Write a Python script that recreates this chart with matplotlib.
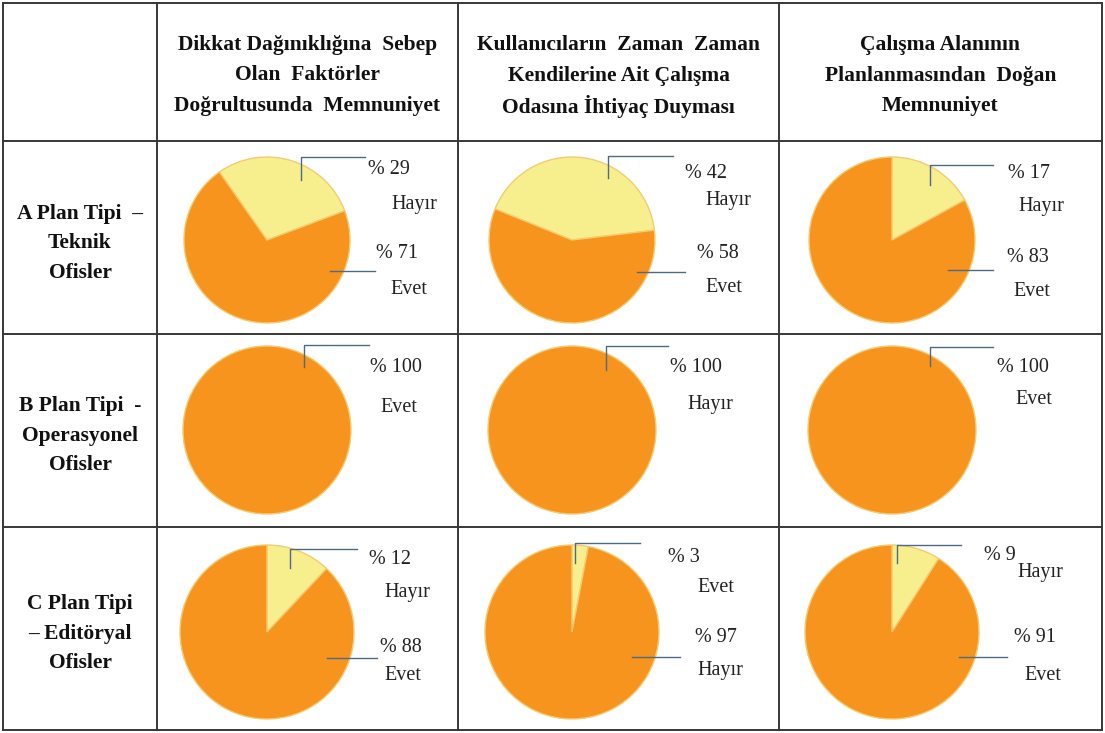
import matplotlib
matplotlib.use("Agg")
import matplotlib.pyplot as plt

# ---- data ----
col_headers = [
    ["Dikkat Dağınıklığına  Sebep", "Olan  Faktörler", "Doğrultusunda  Memnuniyet"],
    ["Kullanıcıların  Zaman  Zaman", "Kendilerine Ait Çalışma", "Odasına İhtiyaç Duyması"],
    ["Çalışma Alanının", "Planlanmasından  Doğan", "Memnuniyet"],
]
row_headers = [
    ["A Plan Tipi  –", "Teknik", "Ofisler"],
    ["B Plan Tipi  -", "Operasyonel", "Ofisler"],
    ["C Plan Tipi", "– Editöryal", "Ofisler"],
]
# upper label slice (first wedge) and lower label slice (second wedge)
top_pct = [[29, 42, 17], [100, 100, 100], [12, 3, 9]]
top_name = [["Hayır", "Hayır", "Hayır"], ["Evet", "Hayır", "Evet"], ["Hayır", "Evet", "Hayır"]]
bot_pct = [[71, 58, 83], [0, 0, 0], [88, 97, 91]]
bot_name = [["Evet", "Evet", "Evet"], ["", "", ""], ["Evet", "Hayır", "Evet"]]

# ---- layout (pixels, y downward) ----
W, H = 1105, 733
xs = [3, 157, 458, 779, 1102]
ys = [3, 141, 334, 527, 730]
pie_cx = [267, 572, 892]
pie_cy = [240, 430, 632]
pie_r = [83, 84, 87]
start = [[125, 158, 90], [90, 90, 90], [90, 90, 90]]

# anchor dx, anchor dy, elbow dy, end dx
lead_top = [
    [(34, -60, -83, 98), (36, -62, -84, 101), (38, -55, -75, 101)],
    [(37, -63, -85, 102), (34, -60, -84, 96), (38, -64, -83, 101)],
    [(23, -64, -83, 90), (3, -69, -89, 68), (5, -69, -87, 69)],
]
# pct x, pct y, name x, name y
txt_top = [
    [(101, -70, 124, -35), (113, -66, 133, -39), (116, -67, 126, -33)],
    [(103, -63, 113, -22), (98, -62, 115, -26), (105, -62, 123, -31)],
    [(102, -72, 117, -39), (96, -74, 125, -45), (92, -77, 125, -59)],
]
# start dx, dy, end dx
lead_bot = [
    [(63, 31, 108), (65, 32, 113), (56, 30, 101)],
    None,
    [(60, 26, 110), (60, 25, 108), (67, 25, 115)],
]
txt_bot = [
    [(109, 13, 123, 50), (125, 13, 133, 47), (115, 18, 121, 52)],
    None,
    [(113, 16, 117, 43), (123, 5, 125, 38), (122, 5, 132, 43)],
]

ORANGE = "#F7941D"
YELLOW = "#F7EE8E"
EDGE = "#F4CB72"
LEAD = "#4d6b88"
GRID = "#383838"
FONT = "Liberation Serif"


def Y(y):
    return H - y


fig = plt.figure(figsize=(W / 100, H / 100), dpi=100)
ax = fig.add_axes([0, 0, 1, 1])

# table lines
for y in ys:
    ax.plot([xs[0], xs[-1]], [Y(y), Y(y)], color=GRID, lw=1.4, solid_capstyle="projecting")
for x in xs:
    ax.plot([x, x], [Y(ys[0]), Y(ys[-1])], color=GRID, lw=1.4, solid_capstyle="projecting")

# column headers
for j, lines in enumerate(col_headers):
    cx = (xs[j + 1] + xs[j + 2]) / 2
    for k, line in enumerate(lines):
        ax.text(cx, Y(45 + 30.5 * k), line, ha="center", va="center",
                fontsize=15.5, fontweight="bold", family=FONT, color="#111111")

# row headers
for i, lines in enumerate(row_headers):
    cy = (ys[i + 1] + ys[i + 2]) / 2
    for k, line in enumerate(lines):
        ax.text(80, Y(cy - 24 + 29.5 * k), line, ha="center", va="center",
                fontsize=15.5, fontweight="bold", family=FONT, color="#111111")

# pies
for i in range(3):
    for j in range(3):
        cx, cy, r = pie_cx[j], pie_cy[i], pie_r[i]
        if bot_pct[i][j]:
            vals = [top_pct[i][j], bot_pct[i][j]]
            cols = [YELLOW, ORANGE]
        else:
            vals = [top_pct[i][j]]
            cols = [ORANGE]
        ax.pie(vals, colors=cols, center=(cx, Y(cy)), radius=r,
               startangle=start[i][j], counterclock=False,
               wedgeprops=dict(edgecolor=EDGE, linewidth=1.0))

        adx, ady, edy, edx = lead_top[i][j]
        ax.plot([cx + adx, cx + adx, cx + edx], [Y(cy + ady), Y(cy + edy), Y(cy + edy)],
                color=LEAD, lw=1.0)
        px, py, nx, ny = txt_top[i][j]
        ax.text(cx + px, Y(cy + py), f"% {top_pct[i][j]}", ha="left", va="center",
                fontsize=14.5, family=FONT, color="#222222")
        ax.text(cx + nx, Y(cy + ny), top_name[i][j], ha="left", va="center",
                fontsize=14.5, family=FONT, color="#222222")

        if lead_bot[i] is not None:
            sdx, sdy, edx = lead_bot[i][j]
            ax.plot([cx + sdx, cx + edx], [Y(cy + sdy), Y(cy + sdy)], color=LEAD, lw=1.0)
            px, py, nx, ny = txt_bot[i][j]
            ax.text(cx + px, Y(cy + py), f"% {bot_pct[i][j]}", ha="left", va="center",
                    fontsize=14.5, family=FONT, color="#222222")
            ax.text(cx + nx, Y(cy + ny), bot_name[i][j], ha="left", va="center",
                    fontsize=14.5, family=FONT, color="#222222")

ax.set_xlim(0, W)
ax.set_ylim(0, H)
ax.set_aspect("auto")
ax.axis("off")

fig.savefig("out.png", dpi=100, facecolor="white")
